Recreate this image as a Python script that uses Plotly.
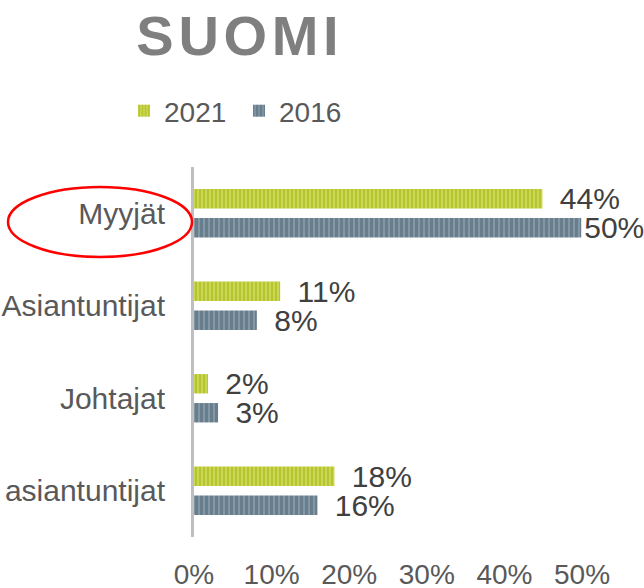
import plotly.graph_objects as go

# data
categories = ["Myyjät", "Asiantuntijat", "Johtajat", "asiantuntijat"]
years = ["2021", "2016"]
values_2021 = [0.449, 0.111, 0.018, 0.181]
values_2016 = [0.499, 0.081, 0.031, 0.159]
labels_2021 = ["44%", "11%", "2%", "18%"]
labels_2016 = ["50%", "8%", "3%", "16%"]
x_ticks = [0, 0.1, 0.2, 0.3, 0.4, 0.5]

W, H = 644, 588
ML, MR, MT, MB = 194, 62, 167, 51
FONT = "Liberation Sans, Arial, sans-serif"

pad = "\u00a0\u2009"

fig = go.Figure()
fig.add_trace(
    go.Bar(
        name=years[0],
        y=categories,
        x=values_2021,
        orientation="h",
        text=[pad + t for t in labels_2021],
        textposition="outside",
        cliponaxis=False,
        constraintext="none",
        textfont=dict(size=30, color="#404040", family=FONT),
        marker=dict(
            color="#a4b60c",
            line=dict(width=0),
            pattern=dict(shape="|", fgcolor="#a0b200", bgcolor="#ccd85a", size=4, solidity=0.55),
        ),
    )
)
fig.add_trace(
    go.Bar(
        name=years[1],
        y=categories,
        x=values_2016,
        orientation="h",
        text=[("" if t == "50%" else pad) + t for t in labels_2016],
        textposition="outside",
        cliponaxis=False,
        constraintext="none",
        textfont=dict(size=30, color="#404040", family=FONT),
        marker=dict(
            color="#3f5666",
            line=dict(width=0),
            pattern=dict(shape="|", fgcolor="#3b5262", bgcolor="#97abb7", size=5, solidity=0.78),
        ),
    )
)

# red ellipse round the first category label (pixel -> paper)
pw = W - ML - MR
ph = H - MT - MB
def px_x(x):
    return (x - ML) / pw
def px_y(y):
    return (H - MB - y) / ph

fig.add_shape(
    type="circle",
    xref="paper",
    yref="paper",
    x0=px_x(8),
    x1=px_x(192),
    y0=px_y(257),
    y1=px_y(187),
    line=dict(color="#ff0000", width=2.5),
    layer="above",
)

fig.update_layout(
    width=W,
    height=H,
    margin=dict(l=ML, r=MR, t=MT, b=MB, autoexpand=False),
    paper_bgcolor="white",
    plot_bgcolor="white",
    barmode="group",
    bargap=0.374,
    bargroupgap=0.33,
    font=dict(family=FONT, color="#595959"),
    title=dict(
        text="<b>S\u200aU\u200aO\u200aM\u200aI</b>",
        font=dict(size=56, color="#7f7f7f", family=FONT),
        x=237.5 / W,
        xanchor="center",
        xref="container",
        y=1 - 35 / H,
        yanchor="middle",
        yref="container",
    ),
    legend=dict(
        orientation="h",
        xref="container",
        yref="container",
        x=124 / W,
        xanchor="left",
        y=1 - 111 / H,
        yanchor="middle",
        font=dict(size=28, color="#595959", family=FONT),
        entrywidth=70,
        traceorder="normal",
    ),
    showlegend=True,
)

fig.update_xaxes(
    range=[0, 0.5],
    tickvals=x_ticks,
    tickformat=".0%",
    showgrid=False,
    zeroline=False,
    showline=False,
    ticks="",
    ticklabelstandoff=18,
    tickfont=dict(size=28, color="#595959", family=FONT),
    automargin=False,
)
fig.update_yaxes(
    autorange="reversed",
    showgrid=False,
    zeroline=False,
    showline=True,
    linecolor="#bfbfbf",
    linewidth=3,
    ticks="",
    ticklabelstandoff=20,
    tickfont=dict(size=30, color="#595959", family=FONT),
    automargin=False,
)

fig.write_html(
    "out.html",
    config={"displayModeBar": False},
    post_script="document.body.style.margin='0px';",
)
